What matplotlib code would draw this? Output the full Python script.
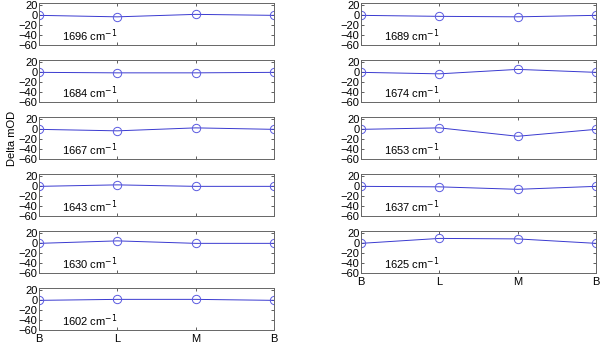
""" Delta mOD per band, B-L-M-B cycle
"""
import numpy as np
import matplotlib.pyplot as plt

plt.rcParams['font.family'] = ['Liberation Sans', 'DejaVu Sans']

cycle_labels = ['B', 'L', 'M', 'B']

# left column, top to bottom
left_bands = [1696, 1684, 1667, 1643, 1630, 1602]
left_values = [
    [0, -3, 2, 0],
    [0, -1, -1, 0],
    [0, -3, 3, 0],
    [0, 3, 0, 0],
    [0, 5, 0, 0],
    [0, 2, 2, 0],
]

# right column, top to bottom
right_bands = [1689, 1674, 1653, 1637, 1625]
right_values = [
    [0, -2, -3, 0],
    [0, -3, 6, 0],
    [0, 3, -14, 0],
    [0, -1, -6, 0],
    [0, 10, 9, 0],
]

W, H = 601, 344
fig = plt.figure(figsize=(W / 100, H / 100), dpi=100)
x = np.arange(1, 5)


def panel(left_px, top_px, band, vals, show_xlabels):
    """ one small MATLAB-like panel """
    ax = fig.add_axes([left_px / W, 1 - (top_px + 42) / H, 235 / W, 42 / H])
    ax.plot(x, vals, color='#3a3ad0', lw=0.7, marker='o', ms=6,
            mfc='none', mec='#5a5ae0', mew=0.7)
    ax.set_xlim(1, 4)
    ax.set_ylim(-60, 25)
    ax.set_yticks([-60, -40, -20, 0, 20])
    ax.set_xticks(x)
    if show_xlabels:
        ax.set_xticklabels(cycle_labels)
    else:
        ax.set_xticklabels([])
    ax.tick_params(direction='in', length=2.5, width=0.6, labelsize=8,
                   top=True, right=True, pad=1, colors='#444444',
                   labelcolor='black')
    ax.tick_params(axis='x', pad=3)
    for s in ax.spines.values():
        s.set_color('#666666')
        s.set_linewidth(0.7)
    ax.text(0.10, -42, f'{band} cm$^{{-1}}$', transform=ax.get_yaxis_transform(),
            fontsize=8, va='center', ha='left')
    return ax


for i, (b, v) in enumerate(zip(left_bands, left_values)):
    ax = panel(39, 3 + 57 * i, b, v, i == len(left_bands) - 1)
    if i == 2:
        ax.set_ylabel('Delta mOD', fontsize=8, labelpad=1)

for i, (b, v) in enumerate(zip(right_bands, right_values)):
    panel(361, 3 + 57 * i, b, v, i == len(right_bands) - 1)

fig.savefig('out.png', dpi=100)
